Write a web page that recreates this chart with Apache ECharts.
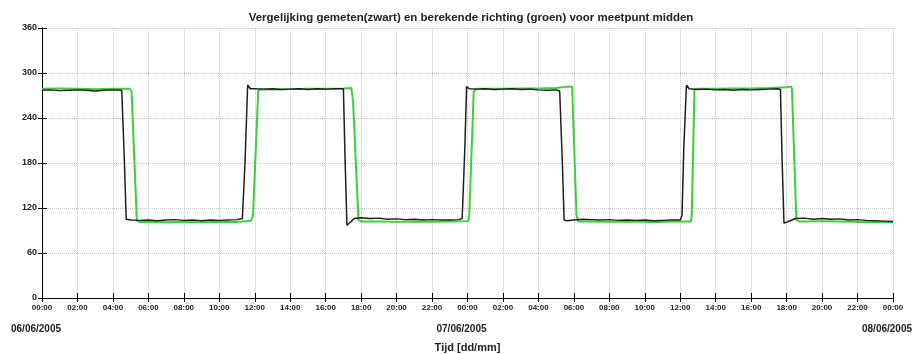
<!DOCTYPE html>
<html>
<head>
<meta charset="utf-8">
<script src="https://cdn.jsdelivr.net/npm/echarts@6/dist/echarts.min.js"></script>
<style>html,body{margin:0;padding:0;background:#fff;}#c{width:917px;height:354px;}</style>
</head>
<body>
<div id="c"></div>
<script>
// ---- Data ----
var titleText = 'Vergelijking gemeten(zwart) en berekende richting (groen) voor meetpunt midden';
var xAxisName = 'Tijd [dd/mm]';
var timeTickLabels = ['00:00','02:00','04:00','06:00','08:00','10:00','12:00','14:00','16:00','18:00','20:00','22:00',
                      '00:00','02:00','04:00','06:00','08:00','10:00','12:00','14:00','16:00','18:00','20:00','22:00','00:00'];
var dateLabels = ['06/06/2005', '07/06/2005', '08/06/2005'];
var yTickLabels = [0, 60, 120, 180, 240, 300, 360];

// measured direction (black), hours since 06/06/2005 00:00
var measuredHours = [0,0.5,1,1.5,2,2.5,3,3.5,4,4.5,
  4.55,4.65,4.75,
  5,5.5,6,6.5,7,7.5,8,8.5,9,9.5,10,10.5,11,11.3,
  11.45,11.6,11.75,
  12,12.5,13,13.5,14,14.5,15,15.5,16,16.5,17,
  17.1,17.2,17.4,17.6,
  18,18.5,19,19.5,20,20.5,21,21.5,22,22.5,23,23.5,23.7,
  23.85,23.95,24.1,
  24.5,25,25.5,26,26.5,27,27.5,28,28.5,29,29.2,
  29.35,29.45,29.6,
  30,30.5,31,31.5,32,32.5,33,33.5,34,34.5,35,35.5,36,36.1,
  36.2,36.35,36.5,
  37,37.5,38,38.5,39,39.5,40,40.5,41,41.5,41.65,
  41.75,41.85,42,
  42.5,43,43.5,44,44.5,45,45.5,46,46.5,47,47.5,48];
var measuredDir = [277,277.5,276.5,277,277.5,277,276,277,277.5,277,
  276,180,105,
  104,103.5,104,103,104,104.5,103.5,104,103,104,103.5,104,104.5,106,
  180,284,279,
  279,278.5,279,278,278.5,279,278,279,278.5,279,279,
  180,97,101,106,
  107,106,106.5,105,105.5,104.5,105,104,104.5,104,104,104.5,106,
  200,282,279,
  278.5,279,278,278.5,279,278,278.5,277.5,277,277.5,276,
  180,104,103,
  104,105,104.5,104,104.5,103.5,104,103.5,104,103,103.5,104,104,110,
  200,284,279,
  278,278.5,277.5,278,277,278,277.5,278,278.5,279,278,
  180,100,101,
  106,106.5,105,106,105,105.5,104,104.5,103.5,103,102.5,102];

// computed direction (green)
var computedHours = [0,1,2,3,4,4.95,
  5.05,5.35,5.5,
  6,7,8,9,10,11,11.8,
  11.9,12.2,12.35,
  13,14,15,16,17,17.45,
  17.55,17.85,18,
  19,20,21,22,23,24.05,
  24.1,24.35,24.5,
  25,26,27,28,29,29.5,29.9,
  29.95,30.15,30.25,
  31,32,33,34,35,36,36.6,
  36.65,36.8,37,
  38,39,40,41,42,42.25,
  42.3,42.55,42.7,
  43,44,45,46,47,48];
var computedDir = [279,279.5,279,278.5,279,279,
  276,103,101.5,
  101.5,101,101.5,101,101.5,101.5,103,
  110,277,278,
  278,278.5,279,279,279.5,280,
  260,104,102,
  102,101.5,102,101.5,102,102.5,
  110,275,279,
  279,279,279.5,279.5,280,281.5,282,
  280,110,102,
  102,101.5,102,101.5,101.5,102,102,
  110,278,279,
  279,279.5,279.5,280,281,282,
  278,104,102,
  102,102.5,102,101.5,101.5,101.5];

function pairs(xs, ys) { return xs.map(function (x, i) { return [x, ys[i]]; }); }

var chart = echarts.init(document.getElementById('c'), null, {renderer: 'canvas'});
var FONT = 'Liberation Sans, Arial, sans-serif';

var gridLine = {show: true, lineStyle: {color: '#c4c4c4', type: 'dotted', width: 1}};
var axisLine = {show: true, lineStyle: {color: '#000', width: 1}};

chart.setOption({
  backgroundColor: '#fff',
  animation: false,
  title: {
    text: titleText, left: 466, top: 7, textAlign: 'center',
    textStyle: {fontFamily: FONT, fontSize: 11.5, fontWeight: 'bold', color: '#222'}
  },
  grid: {left: 42, right: 24, top: 28, bottom: 56, outerBoundsMode: 'none', containLabel: false},
  xAxis: [{
    type: 'value', min: 0, max: 48, interval: 2, position: 'bottom',
    name: xAxisName, nameLocation: 'middle', nameGap: 44,
    nameTextStyle: {fontFamily: FONT, fontSize: 11, fontWeight: 'bold', color: '#222'},
    axisLine: axisLine,
    axisTick: {show: true, inside: true, length: 5, lineStyle: {color: '#000'}},
    splitLine: gridLine,
    axisLabel: {
      showMinLabel: true, showMaxLabel: true, margin: 6,
      fontFamily: FONT, fontSize: 8, fontWeight: 'bold', color: '#222',
      formatter: function (v) { return timeTickLabels[Math.round(v / 2)]; }
    }
  }, {
    type: 'value', min: 0, max: 48, interval: 2, position: 'top',
    axisLine: axisLine,
    axisTick: {show: true, inside: true, length: 4, lineStyle: {color: '#000'}},
    axisLabel: {show: false}, splitLine: {show: false}
  }, {
    type: 'value', min: 0, max: 48, interval: 24, position: 'bottom', offset: 20,
    axisLine: {show: false}, axisTick: {show: false}, splitLine: {show: false},
    axisLabel: {
      showMinLabel: true, showMaxLabel: true, margin: 6,
      fontFamily: FONT, fontSize: 10, fontWeight: 'bold', color: '#222',
      padding: [0, 12, 0, 0],
      formatter: function (v) { return dateLabels[Math.round(v / 24)]; }
    }
  }],
  yAxis: [{
    type: 'value', min: 0, max: 360, interval: 60, position: 'left',
    axisLine: axisLine,
    axisTick: {show: true, inside: true, length: 5, lineStyle: {color: '#000'}},
    splitLine: gridLine,
    axisLabel: {
      margin: 5, showMinLabel: true, showMaxLabel: true,
      fontFamily: FONT, fontSize: 9, fontWeight: 'bold', color: '#222',
      formatter: function (v) { return String(yTickLabels[Math.round(v / 60)]); }
    }
  }, {
    type: 'value', min: 0, max: 360, interval: 60, position: 'right',
    axisLine: axisLine,
    axisTick: {show: true, inside: true, length: 4, lineStyle: {color: '#000'}},
    axisLabel: {show: false}, splitLine: {show: false}
  }],
  series: [{
    name: 'berekend', type: 'line', xAxisIndex: 0, yAxisIndex: 0,
    data: pairs(computedHours, computedDir), showSymbol: false, symbol: 'none',
    lineStyle: {color: '#3ccf3c', width: 2}, z: 2
  }, {
    name: 'gemeten', type: 'line', xAxisIndex: 0, yAxisIndex: 0,
    data: pairs(measuredHours, measuredDir), showSymbol: false, symbol: 'none',
    lineStyle: {color: '#1e1e1e', width: 1.5}, z: 3
  }]
});
</script>
</body>
</html>
